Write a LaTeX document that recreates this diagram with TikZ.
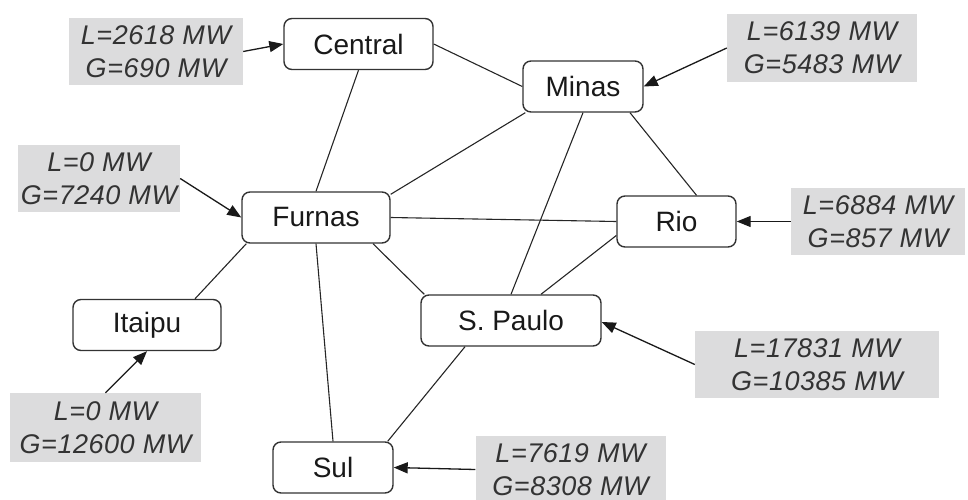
\documentclass[tikz,border=0pt]{standalone}
\usepackage{fontspec}
\setmainfont{Liberation Sans}
\usetikzlibrary{arrows.meta,calc}
\definecolor{labelgray}{RGB}{220,220,221}
\definecolor{inkgray}{RGB}{51,51,51}
\begin{document}
\begin{tikzpicture}[x=1pt,y=-1pt,
  bus/.style={draw=inkgray, line width=1.4pt, rounded corners=8pt, fill=white,
    minimum height=51pt, inner sep=0pt, font=\fontsize{28}{30}\selectfont, text=black!90},
  load/.style={fill=labelgray, inner sep=0pt, align=center,
    font=\fontsize{27}{33}\selectfont\itshape\addfontfeatures{LetterSpace=2}, text=inkgray},
  link/.style={draw=black!85, line width=1.1pt},
  feed/.style={draw=black!90, line width=1.3pt, -{Triangle[length=14pt,width=11pt]}}]
\useasboundingbox (0,0) rectangle (968,500);

% buses
\node[bus, minimum width=149pt] (central) at (358.5,44)   {Central};
\node[bus, minimum width=120pt] (minas)   at (583,86.5)   {Minas};
\node[bus, minimum width=148pt] (furnas)  at (316,217.5)  {Furnas};
\node[bus, minimum width=119pt] (rio)     at (676.5,221.5){Rio};
\node[bus, minimum width=148pt] (itaipu)  at (147,325)    {Itaipu};
\node[bus, minimum width=180pt] (spaulo)  at (511,320.5)  {S. Paulo};
\node[bus, minimum width=120pt] (sul)     at (333,467.5)  {Sul};

% load / generation boxes
\node[load, minimum width=174pt, minimum height=67pt] (l1) at (156,51.5)  {L=2618 MW\\G=690 MW};
\node[load, minimum width=162pt, minimum height=67pt] (l2) at (99,178.5)  {L=0 MW\\G=7240 MW};
\node[load, minimum width=190pt, minimum height=68pt] (l3) at (822,48)    {L=6139 MW\\G=5483 MW};
\node[load, minimum width=174pt, minimum height=67pt] (l4) at (878,221.5) {L=6884 MW\\G=857 MW};
\node[load, minimum width=244pt, minimum height=67pt] (l5) at (817,364.5) {L=17831 MW\\G=10385 MW};
\node[load, minimum width=190pt, minimum height=67pt] (l6) at (570.5,469.5){L=7619 MW\\G=8308 MW};
\node[load, minimum width=191pt, minimum height=69pt] (l7) at (105.5,427.5){L=0 MW\\G=12600 MW};

% transmission lines
\draw[link] (central.east) -- (minas.west);
\draw[link] (central.south) -- (furnas.north);
\draw[link] ($(minas.south west)+(3,0)$) -- ($(furnas.north east)+(0,3)$);
\draw[link] (minas.south) -- (spaulo.north);
\draw[link] ($(minas.south)+(47,0)$) -- ($(rio.north)+(20,0)$);
\draw[link] (furnas.east) -- (rio.west);
\draw[link] ($(rio.west)+(0,14)$) -- ($(spaulo.north)+(30,0)$);
\draw[link] ($(furnas.south)+(57,0)$) -- ($(spaulo.north west)+(4,0)$);
\draw[link] ($(furnas.south west)+(5,0)$) -- ($(itaipu.north)+(48,0)$);
\draw[link] (furnas.south) -- (sul.north);
\draw[link] ($(spaulo.south)+(-46,0)$) -- ($(sul.north east)+(-6,0)$);

% injections
\draw[feed] (l1.east) -- (central.west);
\draw[feed] (l2.east) -- (furnas.west);
\draw[feed] (l3.west) -- (minas.east);
\draw[feed] (l4.west) -- (rio.east);
\draw[feed] (l5.west) -- ($(spaulo.east)+(0,1.5)$);
\draw[feed] (l6.west) -- (sul.east);
\draw[feed] (l7.north) -- (itaipu.south);
\end{tikzpicture}
\end{document}
